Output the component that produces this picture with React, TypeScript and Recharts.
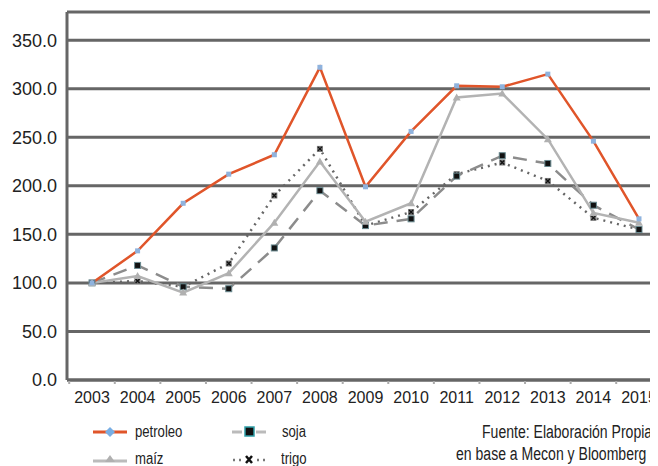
import { LineChart, Line, XAxis, YAxis, CartesianGrid } from 'recharts';

const years = ['2003', '2004', '2005', '2006', '2007', '2008', '2009', '2010', '2011', '2012', '2013', '2014', '2015'];
const petroleo = [100, 133, 182, 212, 232, 322, 199, 256, 303, 302, 315, 246, 166];
const maiz = [100, 107, 90, 110, 162, 225, 163, 182, 291, 295, 248, 172, 162];
const soja = [100, 118, 96, 94, 136, 195, 159, 166, 210, 231, 223, 180, 155];
const trigo = [100, 102, 96, 120, 190, 238, 159, 173, 212, 224, 205, 167, 155];
const yTicks = [0, 50, 100, 150, 200, 250, 300, 350];

const data = years.map((year, i) => ({
  year,
  petroleo: petroleo[i],
  maiz: maiz[i],
  soja: soja[i],
  trigo: trigo[i],
}));

const sans = '"Liberation Sans", Arial, sans-serif';
const HALF_BAND = 22.8;

const XTick = (props: any) => {
  const { x, y, payload } = props;
  return (
    <g>
      <line x1={x - HALF_BAND} x2={x - HALF_BAND} y1={y - 11} y2={y - 8} stroke="#aaa" strokeWidth={2} />
      <text x={x} y={y} dy="0.71em" textAnchor="middle" fontSize={16} fill="#222" fontFamily={sans}>
        {payload.value}
      </text>
    </g>
  );
};

const PetroleoDot = (p: any) => (
  <rect key={`p-${p.index}`} x={p.cx - 2.5} y={p.cy - 2.5} width={5} height={5} fill="#8fb3de" />
);
const MaizDot = (p: any) => (
  <path key={`m-${p.index}`} d={`M${p.cx},${p.cy - 4} L${p.cx + 4},${p.cy + 3} L${p.cx - 4},${p.cy + 3} Z`} fill="#b0b0b0" />
);
const SojaDot = (p: any) => (
  <rect key={`s-${p.index}`} x={p.cx - 3} y={p.cy - 3} width={6} height={6} fill="#111" stroke="#6a8a90" strokeWidth={1} />
);
const TrigoDot = (p: any) => (
  <g key={`t-${p.index}`}>
    <rect x={p.cx - 3} y={p.cy - 3} width={6} height={6} fill="#777" />
    <path d={`M${p.cx - 2},${p.cy - 2} L${p.cx + 2},${p.cy + 2} M${p.cx + 2},${p.cy - 2} L${p.cx - 2},${p.cy + 2}`} stroke="#111" strokeWidth={1.3} />
  </g>
);

// condensed look: regular sans squeezed horizontally
const Narrow = ({ left, top, size = 16, squeeze = 0.82, children }: { left: number; top: number; size?: number; squeeze?: number; children: any }) => (
  <div
    style={{
      position: 'absolute',
      left,
      top: top - 9,
      height: 18,
      lineHeight: '18px',
      fontSize: size,
      color: '#222',
      fontFamily: sans,
      whiteSpace: 'nowrap',
      transform: `scaleX(${squeeze})`,
      transformOrigin: 'left center',
    }}
  >
    {children}
  </div>
);

const LegendIcon = ({ left, top, children }: { left: number; top: number; children: any }) => (
  <svg width={36} height={14} style={{ position: 'absolute', left, top: top - 7 }}>
    {children}
  </svg>
);

export default function App() {
  return (
    <div style={{ position: 'relative', width: 650, height: 458, overflow: 'hidden', background: '#fff', fontFamily: sans }}>
      <LineChart width={660} height={458} data={data} margin={{ top: 4, right: 6, left: 0, bottom: 56 }}>
        <CartesianGrid vertical={false} stroke="#666" strokeWidth={3} />
        <XAxis
          dataKey="year"
          height={30}
          padding={{ left: 25, right: 23 }}
          axisLine={{ stroke: '#666', strokeWidth: 3 }}
          tickLine={false}
          tickSize={0}
          tickMargin={12}
          tick={<XTick />}
          interval={0}
        />
        <YAxis
          width={59}
          domain={[0, 379]}
          ticks={yTicks}
          allowDataOverflow
          axisLine={{ stroke: '#666', strokeWidth: 3 }}
          tickLine={false}
          tickSize={0}
          tickMargin={10}
          tickFormatter={(v: number) => v.toFixed(1)}
          tick={{ fontSize: 18, fill: '#222', fontFamily: sans }}
        />
        <Line dataKey="trigo" stroke="#666" strokeWidth={2.5} strokeDasharray="2 5" dot={TrigoDot} isAnimationActive={false} />
        <Line dataKey="soja" stroke="#8c8c8c" strokeWidth={2.5} strokeDasharray="14 9" dot={SojaDot} isAnimationActive={false} />
        <Line dataKey="maiz" stroke="#b3b3b3" strokeWidth={2.5} dot={MaizDot} isAnimationActive={false} />
        <Line dataKey="petroleo" stroke="#e0552a" strokeWidth={2.5} dot={PetroleoDot} isAnimationActive={false} />
      </LineChart>

      <LegendIcon left={84} top={424}>
        <line x1={1} x2={35} y1={7} y2={7} stroke="#e0552a" strokeWidth={3} />
        <path d="M18,2 L23,7 L18,12 L13,7 Z" fill="#78aee4" />
      </LegendIcon>
      <Narrow left={127} top={424}>petroleo</Narrow>

      <LegendIcon left={223} top={424}>
        <line x1={1} x2={11} y1={7} y2={7} stroke="#bbb" strokeWidth={3} />
        <line x1={25} x2={35} y1={7} y2={7} stroke="#bbb" strokeWidth={3} />
        <rect x={14} y={2} width={9} height={9} fill="#111" stroke="#2f9fa8" strokeWidth={1.5} />
      </LegendIcon>
      <Narrow left={274} top={424}>soja</Narrow>

      <LegendIcon left={84} top={451}>
        <line x1={1} x2={35} y1={9} y2={9} stroke="#bbb" strokeWidth={3} />
        <path d="M18,3 L23,10 L13,10 Z" fill="#b0b0b0" />
      </LegendIcon>
      <Narrow left={127} top={451}>maíz</Narrow>

      <LegendIcon left={223} top={451}>
        <line x1={2} x2={12} y1={8} y2={8} stroke="#777" strokeWidth={2.5} strokeDasharray="2 4" />
        <line x1={26} x2={36} y1={8} y2={8} stroke="#777" strokeWidth={2.5} strokeDasharray="2 4" />
        <path d="M15,4 L21,11 M21,4 L15,11" stroke="#111" strokeWidth={2.5} />
      </LegendIcon>
      <Narrow left={273} top={451}>trigo</Narrow>

      <Narrow left={474} top={424} size={18} squeeze={0.78}>Fuente: Elaboración Propia</Narrow>
      <Narrow left={448} top={446} size={18} squeeze={0.78}>en base a Mecon y Bloomberg</Narrow>
    </div>
  );
}
